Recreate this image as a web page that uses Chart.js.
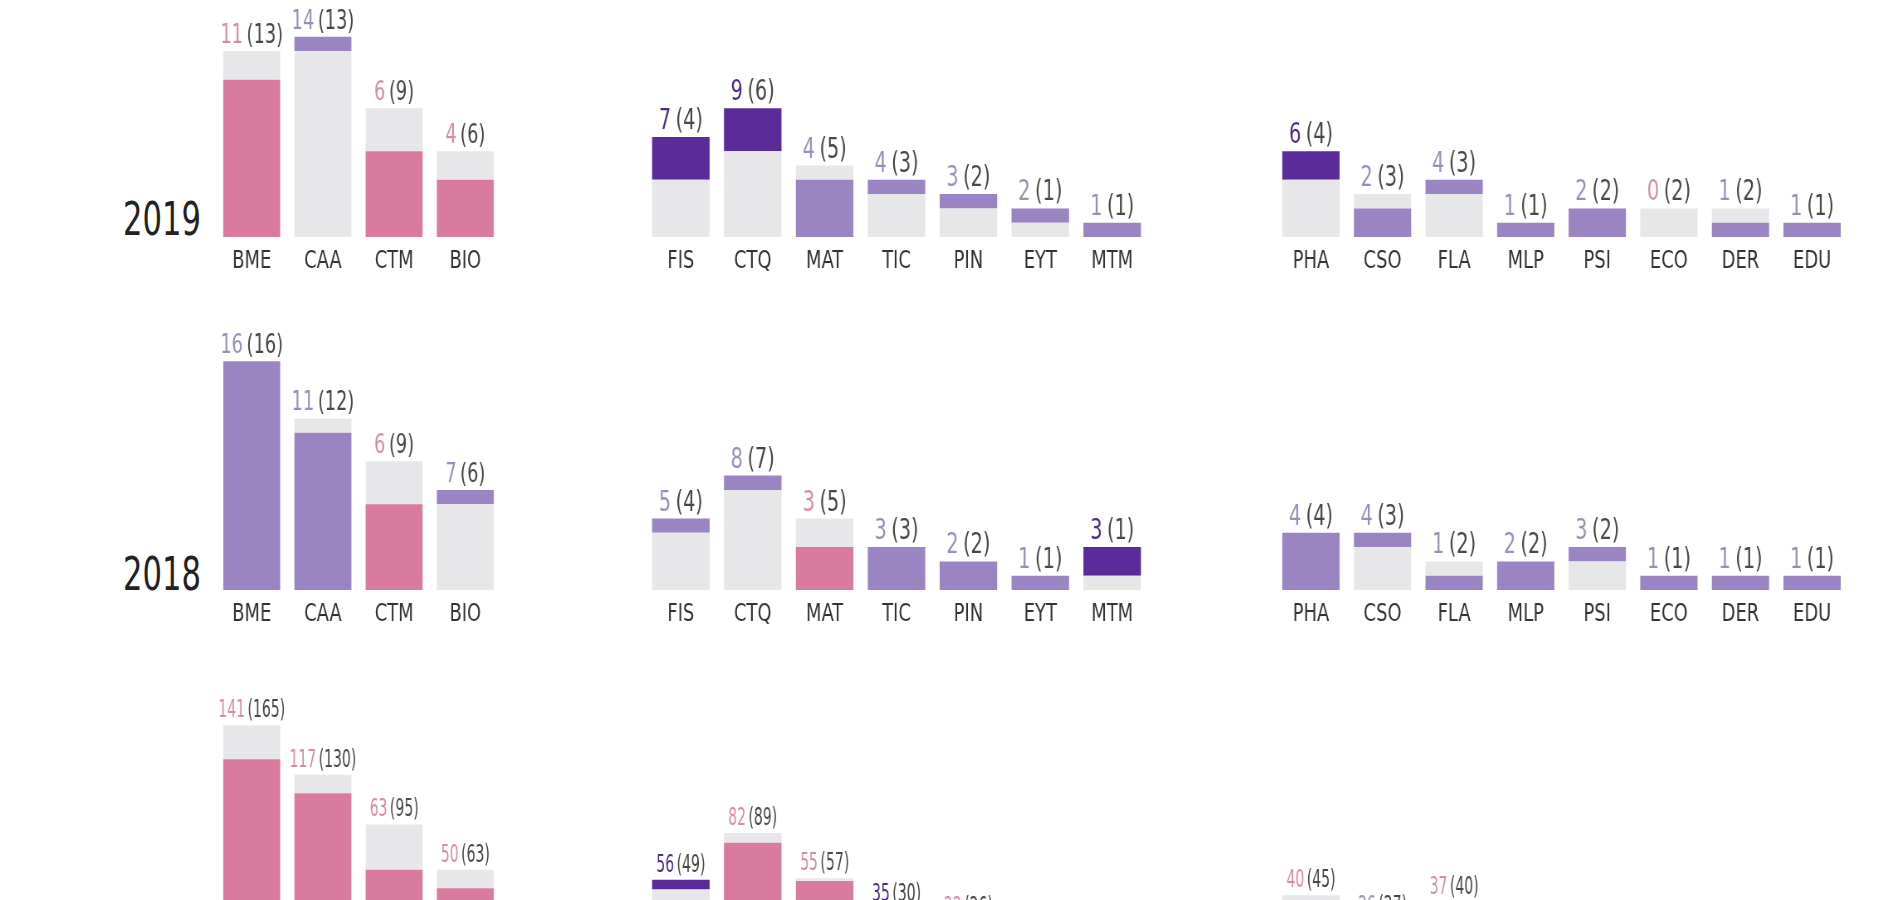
<!DOCTYPE html>
<html lang="en">
<head>
    <meta charset="UTF-8">
    <title>Units by year</title>
    <script src="https://cdn.jsdelivr.net/npm/chart.js"></script>
    <style>
        body {
            margin: 0;
            width: 1900px;
            height: 900px;
            overflow: hidden;
            background: #fff;
            font-family: 'DejaVu Sans Condensed', 'Liberation Sans Narrow', sans-serif;
        }

        canvas {
            position: absolute;
        }

        .year {
            position: absolute;
            left: 123px;
            font-size: 46px;
            line-height: 1;
            color: #222;
            transform: scaleX(0.74);
            transform-origin: left bottom;
        }
    </style>
</head>
<body>
    <div class="year" style="top:196px">2019</div>
    <div class="year" style="top:551px">2018</div>

    <script>
        // Unit codes per group
        const unitsA = ['BME', 'CAA', 'CTM', 'BIO'];
        const unitsB = ['FIS', 'CTQ', 'MAT', 'TIC', 'PIN', 'EYT', 'MTM'];
        const unitsC = ['PHA', 'CSO', 'FLA', 'MLP', 'PSI', 'ECO', 'DER', 'EDU'];

        // 2019: value and value in brackets
        const now2019A = [11, 14, 6, 4];
        const prev2019A = [13, 13, 9, 6];
        const now2019B = [7, 9, 4, 4, 3, 2, 1];
        const prev2019B = [4, 6, 5, 3, 2, 1, 1];
        const now2019C = [6, 2, 4, 1, 2, 0, 1, 1];
        const prev2019C = [4, 3, 3, 1, 2, 2, 2, 1];

        // 2018
        const now2018A = [16, 11, 6, 7];
        const prev2018A = [16, 12, 9, 6];
        const now2018B = [5, 8, 3, 3, 2, 1, 3];
        const prev2018B = [4, 7, 5, 3, 2, 1, 1];
        const now2018C = [4, 4, 1, 2, 3, 1, 1, 1];
        const prev2018C = [4, 3, 2, 2, 2, 1, 1, 1];

        // totals (bottom row, cut off in the picture)
        const nowTotalA = [141, 117, 63, 50];
        const prevTotalA = [165, 130, 95, 63];
        const nowTotalB = [56, 82, 55, 35, 22, 14, 16];
        const prevTotalB = [49, 89, 57, 30, 26, 10, 9];
        const nowTotalC = [40, 26, 37, 12, 19, 9, 10, 8];
        const prevTotalC = [45, 27, 40, 13, 17, 11, 12, 9];

        const PINK = '#d97b9e';
        const LILAC = '#9a84c1';
        const DARK = '#5c2b9a';
        const GREY = '#e7e7ea';
        const barColors = { pink: PINK, lilac: LILAC, dark: DARK };
        const labelColors = { pink: '#d98aa9', lilac: '#9690b8', dark: '#4a2c86' };
        const FONT = '"DejaVu Sans Condensed", "Liberation Sans Narrow", sans-serif';

        function tone(now, prev) {
            const d = now - prev;
            if (d <= -2) return 'pink';
            if (d >= 2) return 'dark';
            return 'lilac';
        }

        // the whole canvas is drawn wider and squeezed back, so text comes out condensed
        const SX = 0.83;
        const MARGIN = 30;
        const AXIS_H = 40;

        const cols = [
            { left: 216, width: 285, size: 27, squeeze: 0.88, gap: 5 },
            { left: 645, width: 503, size: 28, squeeze: 0.92, gap: 6 },
            { left: 1275, width: 573, size: 28, squeeze: 0.92, gap: 6 }
        ];
        const rows = [
            { top: 0, base: 237, unit: 14.3 },
            { top: 300, base: 590, unit: 14.3 },
            { top: 640, base: 959, unit: 1.417 }
        ];

        const panels = [
            [unitsA, now2019A, prev2019A, 0, 0],
            [unitsB, now2019B, prev2019B, 1, 0],
            [unitsC, now2019C, prev2019C, 2, 0],
            [unitsA, now2018A, prev2018A, 0, 1],
            [unitsB, now2018B, prev2018B, 1, 1],
            [unitsC, now2018C, prev2018C, 2, 1],
            [unitsA, nowTotalA, prevTotalA, 0, 2],
            [unitsB, nowTotalB, prevTotalB, 1, 2],
            [unitsC, nowTotalC, prevTotalC, 2, 2]
        ];

        // draws "now (prev)" over each bar
        function valueLabels(now, prev, size, squeeze, gap) {
            return {
                id: 'valueLabels',
                afterDatasetsDraw(chart) {
                    const ctx = chart.ctx;
                    const y = chart.scales.y;
                    chart.getDatasetMeta(0).data.forEach((bar, i) => {
                        const top = y.getPixelForValue(Math.max(now[i], prev[i]));
                        const a = String(now[i]);
                        const b = '(' + prev[i] + ')';
                        ctx.save();
                        ctx.font = size + 'px ' + FONT;
                        ctx.textBaseline = 'alphabetic';
                        ctx.textAlign = 'left';
                        const wa = ctx.measureText(a).width;
                        const wb = ctx.measureText(b).width;
                        ctx.translate(bar.x, top - 8);
                        ctx.scale(squeeze, 1);
                        const x0 = -(wa + gap + wb) / 2;
                        ctx.fillStyle = labelColors[tone(now[i], prev[i])];
                        ctx.fillText(a, x0, 0);
                        ctx.fillStyle = '#474747';
                        ctx.fillText(b, x0 + wa + gap, 0);
                        ctx.restore();
                    });
                }
            };
        }

        panels.forEach(([labels, now, prev, c, r]) => {
            const col = cols[c];
            const row = rows[r];
            const plotH = row.base - row.top;
            const cssW = col.width + 2 * MARGIN;
            const canvas = document.createElement('canvas');
            canvas.width = Math.round(cssW / SX);
            canvas.height = plotH + AXIS_H;
            canvas.style.width = cssW + 'px';
            canvas.style.height = (plotH + AXIS_H) + 'px';
            canvas.style.left = (col.left - MARGIN) + 'px';
            canvas.style.top = row.top + 'px';
            document.body.appendChild(canvas);

            // lower piece is the smaller number, upper piece the difference
            const lower = now.map((v, i) => Math.min(v, prev[i]));
            const upper = now.map((v, i) => Math.abs(v - prev[i]));
            const lowerColors = now.map((v, i) => v <= prev[i] ? barColors[tone(v, prev[i])] : GREY);
            const upperColors = now.map((v, i) => v < prev[i] ? GREY : barColors[tone(v, prev[i])]);

            const pad = (canvas.width - col.width / SX) / 2;
            const labelFont = r === 2 ? [25, 0.75, 4] : [col.size, col.squeeze, col.gap];

            new Chart(canvas.getContext('2d'), {
                type: 'bar',
                data: {
                    labels: labels,
                    datasets: [
                        { data: lower, backgroundColor: lowerColors, borderWidth: 0 },
                        { data: upper, backgroundColor: upperColors, borderWidth: 0 }
                    ]
                },
                options: {
                    responsive: false,
                    animation: false,
                    devicePixelRatio: 1,
                    layout: { padding: { left: pad, right: pad, top: 0, bottom: 0 } },
                    datasets: { bar: { barPercentage: 0.8, categoryPercentage: 1 } },
                    scales: {
                        x: {
                            stacked: true,
                            grid: { display: false, drawTicks: false },
                            border: { display: false },
                            ticks: {
                                padding: 10,
                                color: '#333',
                                font: { family: FONT, size: 24 }
                            },
                            afterFit: s => { s.height = AXIS_H; }
                        },
                        y: {
                            stacked: true,
                            display: false,
                            min: 0,
                            max: plotH / row.unit
                        }
                    },
                    plugins: {
                        legend: { display: false },
                        tooltip: { enabled: false }
                    }
                },
                plugins: [valueLabels(now, prev, ...labelFont)]
            });
        });
    </script>
</body>
</html>
